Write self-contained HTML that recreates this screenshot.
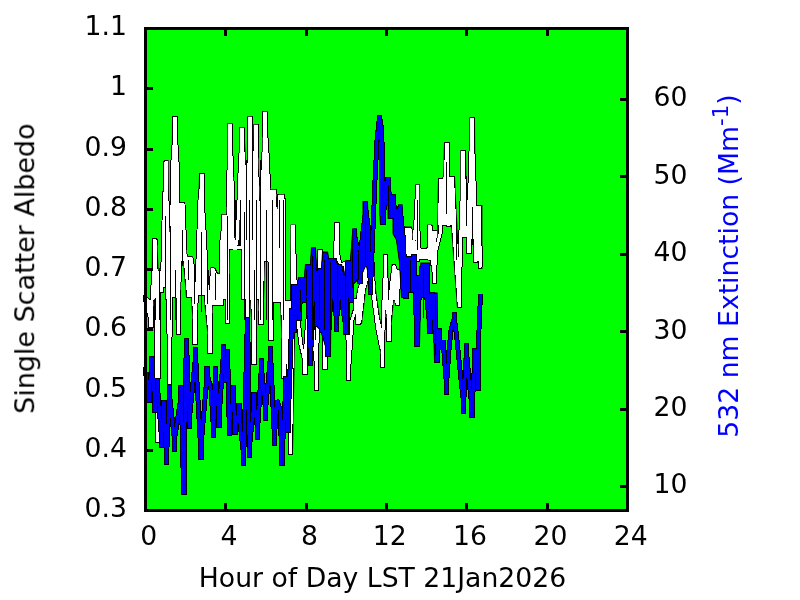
<!DOCTYPE html>
<html><head><meta charset="utf-8">
<style>
html,body{margin:0;padding:0;background:#fff;overflow:hidden}
svg{display:block}
text{font-family:"DejaVu Sans","Liberation Sans",sans-serif;font-size:26.67px;fill:#000}
</style></head><body>
<svg width="800" height="600" viewBox="0 0 800 600">
<rect x="0" y="0" width="800" height="600" fill="#fff"/>
<rect x="145" y="28" width="483" height="483" fill="#00ff00" shape-rendering="crispEdges"/>

<path d="M147,449h6v3h-6zM147,389h6v3h-6zM147,328h6v3h-6zM147,268h6v3h-6zM147,208h6v3h-6zM147,148h6v3h-6zM147,87h6v3h-6zM224,503h3v6h-3zM224,30h3v6h-3zM305,503h3v6h-3zM305,30h3v6h-3zM385,503h3v6h-3zM385,30h3v6h-3zM465,503h3v6h-3zM465,30h3v6h-3zM546,503h3v6h-3zM546,30h3v6h-3zM620,485h6v3h-6zM620,408h6v3h-6zM620,330h6v3h-6zM620,253h6v3h-6zM620,175h6v3h-6zM620,98h6v3h-6z" fill="#000" shape-rendering="crispEdges"/>
<g shape-rendering="crispEdges" fill="none" stroke-linejoin="miter" stroke-miterlimit="2" stroke-linecap="butt">
<polyline points="146,298 148,310 150.6,318.25 150.6,325 151.4,325 151.4,313.75 152,300 154.25,267.55 154.25,241 155.25,241 155.25,267.55 156.5,300 157.1,400 157.1,440 157.9,440 157.9,400 158.5,300 159.1,284.6 159.1,272 159.9,272 159.9,280.1 160.6,281.9 160.6,290 161.4,290 161.4,277.4 163,262 164.5,200 165.75,179.65 165.75,163 166.75,163 166.75,193.15 168,230 169.1,343 169.1,383 169.9,383 169.9,345.65 170.5,300 171.5,228 173,160 174.5,137.45 174.5,119 175.5,119 175.5,137.45 177,160 178,240 178.1,292 178.1,332 178.9,332 178.9,292 179.5,240 180,204 183,204 184,230 185.5,266 188,258 191,258 193,270 194.6,309.6 194.6,342 195.4,342 195.4,324.9 196,304 198,260 200,200 201.25,186.25 201.25,175 202.25,175 202.25,199.75 204,230 206,270 208,300 209.6,328.05 209.6,351 210.4,351 210.4,323.55 211,290 212.5,270 213.5,270 216,275 221,275 222,240 223.5,226.8 223.5,216 224.5,216 224.5,235.8 226,260 227,293.55 227,321 227.8,321 227.8,289.05 228,250 229,170 229.75,145.25 229.75,125 230.75,125 230.75,149.75 232,180 233,238 235,250 237,240 239,200 240.5,160 241.75,142.95 241.75,129 242.75,129 242.75,147.45 244,170 245.5,230 246,280 247.1,299.8 247.1,316 247.9,316 247.9,276 248,200 249.25,154.9 249.25,118 250.25,118 250.25,154.9 251.5,200 253.2,322 253.2,362 254,362 254,322 254,250 255.25,166 255.25,126 256.25,126 256.25,159.3 258,200 260,280 260.6,303.1 260.6,322 261.4,322 261.4,289.6 262,250 263,170 264.75,138.65 264.75,113 265.75,113 265.75,134.15 267.5,160 269,200 270.6,298 270.6,338 271.4,338 271.4,298.4 272,250 273.25,217.55 273.25,191 274.25,191 274.25,208.55 277,230 277.6,241 277.6,250 278.4,250 278.4,225.7 279.5,196 283,196 283.6,336 283.6,376 284.4,376 284.4,355.3 285.5,330 286.6,319 286.6,310 287.4,310 287.4,350 290.1,412 290.1,452 290.9,452 290.9,412 293.1,267 293.1,227 293.9,227 293.9,250.85 295,280 297,312 301,345 304.6,359.85 304.6,372 305.4,372 305.4,353.1 307,330 308.6,313.5 308.6,300 309.4,300 309.4,313.5 313,330 316.1,361.9 316.1,388 316.9,388 316.9,348.4 318,300 319.25,273.05 319.25,251 320.25,251 320.25,273.05 322,300 324.6,336.85 324.6,367 325.4,367 325.4,345.85 327,320 331,285 334.8,262 336,241.1 336,224 337,224 337,239.3 338.2,258 341,266 345,263 347,300 348.1,342.9 348.1,378 348.9,378 348.9,365.4 350,350 352,320 355.6,309 355.6,300 356.4,300 356.4,309.9 357.6,312.1 357.6,322 358.4,322 358.4,307.6 360,290 363,275 366,268 369,262 372,262 374,300 378,330 382,349.25 382,365 382.8,365 382.8,335.75 384,300 385.1,275.8 385.1,256 385.9,256 385.9,275.8 387,300 388.6,321.45 388.6,339 389.4,339 389.4,316.95 391,290 393.8,266 396,272 397.1,289.05 397.1,303 397.9,303 397.9,290.4 399,275 402,280 404,250 406,229 410,229 412,250 414,240 416.6,215 417,199.05 417,186 417.8,186 417.8,213 418.2,246 421,254 426.5,254 429,248 429,236.725 429,227.5 430,227.5 430,237.625 430.3,250 432.5,262 434.1,272.45 434.1,281 434.9,281 434.9,267.05 436,250 440.5,232 440.5,180.5 443,180.6 446,176 446,158.675 446,144.5 447,144.5 447,158.675 447,176 448.1,202.4 448.1,224 448.9,224 448.9,213.2 450,200 451.5,188.175 451.5,178.5 452.5,178.5 452.5,194.025 453,213 455,240 459.1,275.2 459.1,304 459.9,304 459.9,270.7 461,230 462.5,187.1 462.5,152 463.5,152 463.5,173.6 466,200 468.6,228.05 468.6,251 469.4,251 469.4,211 470.5,160 471.75,137.45 471.75,119 472.75,119 472.75,146.45 474,180 475.1,224 475.1,260 475.9,260 475.9,246.5 477,230 478.75,217.35 478.75,207 479.75,207 479.75,234 480.5,267" stroke="#000" stroke-width="5"/>
<clipPath id="c1"><polygon points="146,296 150,299 151.5,299 152,238 157,238 157.5,245 158.5,269 159.5,272 161,267 162.5,263 163,233 163.5,200 164,160 168.6,160 169,200 169.5,228 170,267 171.2,267 171.5,230 172,116 178,116 178,157 179,160 179,202 184.4,202 184.6,225 186,230 186.5,250 187,265 187.5,256 192.5,256 192.7,270 193.5,270 193.8,304 197,304 197.5,279 197.5,250 199,173 204,173 204.5,230 205,236 206,255 207,270 208,290 208.5,292 209.5,292 210,275 210.5,267 214.5,267 214.5,272.5 221.6,273 221.6,214.4 226,214.4 227,200 227.4,123.4 233,123.4 233,152 234,200 234.5,236 236,238 236,245 239,245 239.4,214 239.4,127.4 245,127.4 245,140 246,164 247,164 247,116.4 252,116.4 252.3,150 253,150 253.2,124.4 258,124.4 258.5,158 260,200 260.5,215 262.4,215 262.4,140 263.5,111.4 268,111.4 268,130 269,184 271,189.4 276,189.4 277,198 278,215 279,194.4 284.4,194.4 284.4,262 285,300 290,300 290.4,224.4 296,224.4 296,284 293,453 288,453 288,320 286,350 284,377 282,350 280,303 273,303 273,338 268,338 268,262 265,262 264,300 264,322 259,322 258,300 256,300 256,362 251,362 251,300 250,318 245,318 245,300 241,300 241,250 236,250 230,250 229,300 229,321 226.5,321 226,300 224,300 224,306 213,306 212,320 210,352 207,330 204,300 204,296 198,296 198,300 197,320 195,343 193,325 191,300 191,298 186,298 185.5,290 183,262 181,262 180.5,290 180,300 176,300 175.5,298 171.5,298 171,300 165,300 165,288 160,288 160,300 156,299 154,300 153,312 151,326 148,315 146,301"/></clipPath>
<polygon points="146,296 150,299 151.5,299 152,238 157,238 157.5,245 158.5,269 159.5,272 161,267 162.5,263 163,233 163.5,200 164,160 168.6,160 169,200 169.5,228 170,267 171.2,267 171.5,230 172,116 178,116 178,157 179,160 179,202 184.4,202 184.6,225 186,230 186.5,250 187,265 187.5,256 192.5,256 192.7,270 193.5,270 193.8,304 197,304 197.5,279 197.5,250 199,173 204,173 204.5,230 205,236 206,255 207,270 208,290 208.5,292 209.5,292 210,275 210.5,267 214.5,267 214.5,272.5 221.6,273 221.6,214.4 226,214.4 227,200 227.4,123.4 233,123.4 233,152 234,200 234.5,236 236,238 236,245 239,245 239.4,214 239.4,127.4 245,127.4 245,140 246,164 247,164 247,116.4 252,116.4 252.3,150 253,150 253.2,124.4 258,124.4 258.5,158 260,200 260.5,215 262.4,215 262.4,140 263.5,111.4 268,111.4 268,130 269,184 271,189.4 276,189.4 277,198 278,215 279,194.4 284.4,194.4 284.4,262 285,300 290,300 290.4,224.4 296,224.4 296,284 293,453 288,453 288,320 286,350 284,377 282,350 280,303 273,303 273,338 268,338 268,262 265,262 264,300 264,322 259,322 258,300 256,300 256,362 251,362 251,300 250,318 245,318 245,300 241,300 241,250 236,250 230,250 229,300 229,321 226.5,321 226,300 224,300 224,306 213,306 212,320 210,352 207,330 204,300 204,296 198,296 198,300 197,320 195,343 193,325 191,300 191,298 186,298 185.5,290 183,262 181,262 180.5,290 180,300 176,300 175.5,298 171.5,298 171,300 165,300 165,288 160,288 160,300 156,299 154,300 153,312 151,326 148,315 146,301" fill="#fff" stroke="#000" stroke-width="2" clip-path="url(#c1)"/>
<clipPath id="c2"><polygon points="352,322 357,290 364,268 369,262 373,262 376,290 380,318 383,330 383,256 388,256 388.5,300 391.5,290 391.6,264 396,264 396,268 402,270 402,282 398,284 398,305 395,305 394,300 390,341 388,341 386,310 384,340 382.4,367 380,350 376,320 372,296 369,280 366,290 362,324 357,324 355,312"/></clipPath>
<polygon points="352,322 357,290 364,268 369,262 373,262 376,290 380,318 383,330 383,256 388,256 388.5,300 391.5,290 391.6,264 396,264 396,268 402,270 402,282 398,284 398,305 395,305 394,300 390,341 388,341 386,310 384,340 382.4,367 380,350 376,320 372,296 369,280 366,290 362,324 357,324 355,312" fill="#fff" stroke="#000" stroke-width="2" clip-path="url(#c2)"/>
<clipPath id="c3"><polygon points="404,258 404,226.6 412,226.6 413,240 415,240 415,184.4 419.6,184.4 420,248 427,248 427,224.4 432,224.4 432.5,230 437,230 438,178 443,178 444,142 449,142 449,176 455,176 456,200 458,236 460.4,272 460.4,150 466,150 466.5,190 467.5,225 469,225 469.4,117 475,117 475.6,205 482.4,205 482.4,269 482.4,269 478,269 478,262 473,262 473,240 471,240 471,253 467,253 467,238 462,238 462,308 457,308 454,268 451,226 438,226 437,250 437,283 432,283 432,262 427,260 420,260 420,262 415,262 412,260 404,258"/></clipPath>
<polygon points="404,258 404,226.6 412,226.6 413,240 415,240 415,184.4 419.6,184.4 420,248 427,248 427,224.4 432,224.4 432.5,230 437,230 438,178 443,178 444,142 449,142 449,176 455,176 456,200 458,236 460.4,272 460.4,150 466,150 466.5,190 467.5,225 469,225 469.4,117 475,117 475.6,205 482.4,205 482.4,269 482.4,269 478,269 478,262 473,262 473,240 471,240 471,253 467,253 467,238 462,238 462,308 457,308 454,268 451,226 438,226 437,250 437,283 432,283 432,262 427,260 420,260 420,262 415,262 412,260 404,258" fill="#fff" stroke="#000" stroke-width="2" clip-path="url(#c3)"/>
<polyline points="146,298 148,310 150.6,318.25 150.6,325 151.4,325 151.4,313.75 152,300 154.25,267.55 154.25,241 155.25,241 155.25,267.55 156.5,300 157.1,400 157.1,440 157.9,440 157.9,400 158.5,300 159.1,284.6 159.1,272 159.9,272 159.9,280.1 160.6,281.9 160.6,290 161.4,290 161.4,277.4 163,262 164.5,200 165.75,179.65 165.75,163 166.75,163 166.75,193.15 168,230 169.1,343 169.1,383 169.9,383 169.9,345.65 170.5,300 171.5,228 173,160 174.5,137.45 174.5,119 175.5,119 175.5,137.45 177,160 178,240 178.1,292 178.1,332 178.9,332 178.9,292 179.5,240 180,204 183,204 184,230 185.5,266 188,258 191,258 193,270 194.6,309.6 194.6,342 195.4,342 195.4,324.9 196,304 198,260 200,200 201.25,186.25 201.25,175 202.25,175 202.25,199.75 204,230 206,270 208,300 209.6,328.05 209.6,351 210.4,351 210.4,323.55 211,290 212.5,270 213.5,270 216,275 221,275 222,240 223.5,226.8 223.5,216 224.5,216 224.5,235.8 226,260 227,293.55 227,321 227.8,321 227.8,289.05 228,250 229,170 229.75,145.25 229.75,125 230.75,125 230.75,149.75 232,180 233,238 235,250 237,240 239,200 240.5,160 241.75,142.95 241.75,129 242.75,129 242.75,147.45 244,170 245.5,230 246,280 247.1,299.8 247.1,316 247.9,316 247.9,276 248,200 249.25,154.9 249.25,118 250.25,118 250.25,154.9 251.5,200 253.2,322 253.2,362 254,362 254,322 254,250 255.25,166 255.25,126 256.25,126 256.25,159.3 258,200 260,280 260.6,303.1 260.6,322 261.4,322 261.4,289.6 262,250 263,170 264.75,138.65 264.75,113 265.75,113 265.75,134.15 267.5,160 269,200 270.6,298 270.6,338 271.4,338 271.4,298.4 272,250 273.25,217.55 273.25,191 274.25,191 274.25,208.55 277,230 277.6,241 277.6,250 278.4,250 278.4,225.7 279.5,196 283,196 283.6,336 283.6,376 284.4,376 284.4,355.3 285.5,330 286.6,319 286.6,310 287.4,310 287.4,350 290.1,412 290.1,452 290.9,452 290.9,412 293.1,267 293.1,227 293.9,227 293.9,250.85 295,280 297,312 301,345 304.6,359.85 304.6,372 305.4,372 305.4,353.1 307,330 308.6,313.5 308.6,300 309.4,300 309.4,313.5 313,330 316.1,361.9 316.1,388 316.9,388 316.9,348.4 318,300 319.25,273.05 319.25,251 320.25,251 320.25,273.05 322,300 324.6,336.85 324.6,367 325.4,367 325.4,345.85 327,320 331,285 334.8,262 336,241.1 336,224 337,224 337,239.3 338.2,258 341,266 345,263 347,300 348.1,342.9 348.1,378 348.9,378 348.9,365.4 350,350 352,320 355.6,309 355.6,300 356.4,300 356.4,309.9 357.6,312.1 357.6,322 358.4,322 358.4,307.6 360,290 363,275 366,268 369,262 372,262 374,300 378,330 382,349.25 382,365 382.8,365 382.8,335.75 384,300 385.1,275.8 385.1,256 385.9,256 385.9,275.8 387,300 388.6,321.45 388.6,339 389.4,339 389.4,316.95 391,290 393.8,266 396,272 397.1,289.05 397.1,303 397.9,303 397.9,290.4 399,275 402,280 404,250 406,229 410,229 412,250 414,240 416.6,215 417,199.05 417,186 417.8,186 417.8,213 418.2,246 421,254 426.5,254 429,248 429,236.725 429,227.5 430,227.5 430,237.625 430.3,250 432.5,262 434.1,272.45 434.1,281 434.9,281 434.9,267.05 436,250 440.5,232 440.5,180.5 443,180.6 446,176 446,158.675 446,144.5 447,144.5 447,158.675 447,176 448.1,202.4 448.1,224 448.9,224 448.9,213.2 450,200 451.5,188.175 451.5,178.5 452.5,178.5 452.5,194.025 453,213 455,240 459.1,275.2 459.1,304 459.9,304 459.9,270.7 461,230 462.5,187.1 462.5,152 463.5,152 463.5,173.6 466,200 468.6,228.05 468.6,251 469.4,251 469.4,211 470.5,160 471.75,137.45 471.75,119 472.75,119 472.75,146.45 474,180 475.1,224 475.1,260 475.9,260 475.9,246.5 477,230 478.75,217.35 478.75,207 479.75,207 479.75,234 480.5,267" stroke="#fff" stroke-width="3"/>
<polyline points="155.5,298 155.5,320" stroke="#000" stroke-width="1"/>
<polyline points="159.5,268 159.5,320" stroke="#000" stroke-width="1"/>
<polyline points="165.5,216 165.5,300" stroke="#000" stroke-width="1"/>
<polyline points="170.5,226 170.5,320" stroke="#000" stroke-width="1"/>
<polyline points="175.5,270 175.5,320" stroke="#000" stroke-width="1"/>
<polyline points="182.5,230 182.5,266" stroke="#000" stroke-width="1"/>
<polyline points="188.5,260 188.5,280" stroke="#000" stroke-width="1"/>
<polyline points="194.5,270 194.5,304" stroke="#000" stroke-width="1"/>
<polyline points="201.5,232 201.5,312" stroke="#000" stroke-width="1"/>
<polyline points="207.5,270 207.5,304" stroke="#000" stroke-width="1"/>
<polyline points="215.5,273 215.5,300" stroke="#000" stroke-width="1"/>
<polyline points="227.5,216 227.5,320" stroke="#000" stroke-width="1"/>
<polyline points="235.5,200 235.5,220" stroke="#000" stroke-width="1"/>
<polyline points="240.5,200 240.5,246" stroke="#000" stroke-width="1"/>
<polyline points="244.5,212 244.5,320" stroke="#000" stroke-width="1"/>
<polyline points="246.5,160 246.5,240" stroke="#000" stroke-width="1"/>
<polyline points="249.5,200 249.5,320" stroke="#000" stroke-width="1"/>
<polyline points="252.5,150 252.5,240" stroke="#000" stroke-width="1"/>
<polyline points="254.5,270 254.5,320" stroke="#000" stroke-width="1"/>
<polyline points="256.5,200 256.5,320" stroke="#000" stroke-width="1"/>
<polyline points="260.5,160 260.5,320" stroke="#000" stroke-width="1"/>
<polyline points="266.5,210 266.5,320" stroke="#000" stroke-width="1"/>
<polyline points="272.5,200 272.5,320" stroke="#000" stroke-width="1"/>
<polyline points="279.5,200 279.5,248" stroke="#000" stroke-width="1"/>
<polyline points="283.5,200 283.5,320" stroke="#000" stroke-width="1"/>
<polyline points="446.5,162 446.5,214" stroke="#000" stroke-width="1"/>
<polyline points="472.5,207 472.5,245" stroke="#000" stroke-width="1"/>
<polyline points="466.5,176 466.5,226" stroke="#000" stroke-width="1"/>
<polyline points="417.5,200 417.5,250" stroke="#000" stroke-width="1"/>
<polyline points="456.5,226 456.5,260" stroke="#000" stroke-width="1"/>
<polyline points="146,372 148.6,391.6 148.6,400 149.4,400 149.4,388 151.6,370 151.6,358 152.4,358 152.4,370 154.6,398 154.6,410 155.4,410 155.4,401 157.1,389 157.1,380 157.9,380 157.9,392 161.1,433 161.1,445 161.9,445 161.9,433 163.6,414 163.6,402 164.4,402 164.4,414 166.1,450 166.1,462 166.9,462 166.9,450 169.1,398 169.1,386 169.9,386 169.9,398 174.1,437 174.1,449 174.9,449 174.9,437 180.6,399 180.6,387 181.4,387 181.4,399 183.3,480 183.3,492 184.1,492 184.1,480 186.1,352 186.1,340 186.9,340 186.9,352 189.1,414 189.1,426 189.9,426 189.9,414 195.1,361 195.1,349 195.9,349 195.9,361 200.4,445 200.4,457 201.2,457 201.2,445 206.6,380 206.6,368 207.4,368 207.4,374.6 211,390 213.1,423 213.1,435 213.9,435 213.9,423 215.1,380 215.1,368 215.9,368 215.9,380 218.6,413 218.6,425 219.4,425 219.4,413 223.1,358 223.1,346 223.9,346 223.9,356.2 225.1,369.8 225.1,380 225.9,380 225.9,371.3 227.1,359.7 227.1,351 227.9,351 227.9,363 229.1,421 229.1,433 229.9,433 229.9,421 232.6,399 232.6,387 233.4,387 233.4,399 234.6,420 234.6,432 235.4,432 235.4,423.9 238.6,413.1 238.6,405 239.4,405 239.4,417 243.1,451 243.1,463 243.9,463 243.9,451 247.1,331 247.1,319 247.9,319 247.9,331 249.1,443 249.1,455 249.9,455 249.9,443 253.6,406 253.6,394 254.4,394 254.4,406 257.1,425 257.1,437 257.9,437 257.9,425 261.1,372 261.1,360 261.9,360 261.9,372 265.1,406 265.1,418 265.9,418 265.9,406 270.1,360 270.1,348 270.9,348 270.9,360 274.1,431 274.1,443 274.9,443 274.9,431 277,400 280,410 281.6,451 281.6,463 282.4,463 282.4,451 285.6,390 285.6,378 286.4,378 286.4,390 287.6,418 287.6,430 288.4,430 288.4,418 291.6,322 291.6,310 292.4,310 292.4,316 293.6,324 293.6,330 294.4,330 294.4,321.6 297.6,310.4 297.6,302 298.4,302 298.4,306.8 299.1,313.2 299.1,318 299.9,318 299.9,306.3 300.6,290.7 300.6,279 301.4,279 301.4,285.3 303.6,293.7 303.6,300 304.4,300 304.4,289.8 307.1,276.2 307.1,266 307.9,266 307.9,278 310.1,351 310.1,363 310.9,363 310.9,351 313.1,262 313.1,250 313.9,250 313.9,262 316.6,312 316.6,324 317.4,324 317.4,312 319.6,282 319.6,270 320.4,270 320.4,282 321.6,318 321.6,330 322.4,330 322.4,318 324.6,266 324.6,254 325.4,254 325.4,266 327.6,342 327.6,354 328.4,354 328.4,342 332.1,272 332.1,260 332.9,260 332.9,272 336.1,317 336.1,329 336.9,329 336.9,317 339.6,280 339.6,268 340.4,268 340.4,280 343,310 345.6,325.4 345.6,332 346.4,332 346.4,320 347.6,274 347.6,262 348.4,262 348.4,273.4 350.6,288.6 350.6,300 351.4,300 351.4,288 354.1,243 354.1,231 354.9,231 354.9,237.3 358.5,252 359.6,272.3 359.6,281 360.4,281 360.4,269 362,240 365.1,214.1 365.1,203 365.9,203 365.9,209.6 368,225 370.1,280 370.1,292 370.9,292 370.9,280 373,230 375,180 377,140 379.5,117 381,125 382.5,150 382.6,210 382.6,222 383.4,222 383.4,215.4 385,200 387.6,185.3 387.6,179 388.4,179 388.4,190.1 390.6,204.9 390.6,216 391.4,216 391.4,210 392.6,202 392.6,196 393.4,196 393.4,201.7 396,215 400,207 403,235 405.6,284 405.6,296 406.4,296 406.4,284.6 408.6,269.4 408.6,258 409.4,258 409.4,267.6 410.6,280.4 410.6,290 411.4,290 411.4,279.8 413.6,266.2 413.6,256 414.4,256 414.4,268 416.6,332 416.6,344 417.4,344 417.4,332 419.5,290 421.6,274.6 421.6,268 422.4,268 422.4,275.8 423.1,286.2 423.1,294 423.9,294 423.9,286.2 424.6,275.8 424.6,268 425.4,268 425.4,277.6 427,300 429.3,321.7 429.3,331 430.1,331 430.1,319.9 431.6,305.1 431.6,294 432.4,294 432.4,304.8 435,330 436.6,351 436.6,360 437.4,360 437.4,351 438.6,339 438.6,330 439.4,330 439.4,336 441,350 443,340 446.1,380 446.1,392 446.9,392 446.9,380 449,350 451,330 454.1,318.8 454.1,314 454.9,314 454.9,321.8 457,340 460,370 463.1,399 463.1,411 463.9,411 463.9,399 466.1,357 466.1,345 466.9,345 466.9,355.5 469,380 471.6,404.5 471.6,415 472.4,415 472.4,403 474.6,362 474.6,350 475.4,350 475.4,361.4 477.6,376.6 477.6,388 478.4,388 478.4,376 479,330 480.5,294" stroke="#000" stroke-width="5"/>
<clipPath id="c4"><polygon points="291,284 297,284 298,277 304,277 305,264 310,264 311,247.4 316,247.4 317,270 321,270 322,251.6 328,251.6 329,258 336,258 338,264 342,264 344,275 346,260 350,260 352.4,228.4 357,228.4 357.5,248 361,248 362.5,215 362.5,201 368,201 368.5,220 370.6,235 372,280 372,280 370.5,294 369,280 366,266 362,275 360,283 358,280 354,284 352,290 349,296 349,334 343,334 343,300 339,300 339,331 334,331 334,300 331.5,300 331,356 328,356 320,330 315.5,326 315,300 313.5,300 313,365 308,365 307.5,298 301,298 300,316 292,316 291,330"/></clipPath>
<polygon points="291,284 297,284 298,277 304,277 305,264 310,264 311,247.4 316,247.4 317,270 321,270 322,251.6 328,251.6 329,258 336,258 338,264 342,264 344,275 346,260 350,260 352.4,228.4 357,228.4 357.5,248 361,248 362.5,215 362.5,201 368,201 368.5,220 370.6,235 372,280 372,280 370.5,294 369,280 366,266 362,275 360,283 358,280 354,284 352,290 349,296 349,334 343,334 343,300 339,300 339,331 334,331 334,300 331.5,300 331,356 328,356 320,330 315.5,326 315,300 313.5,300 313,365 308,365 307.5,298 301,298 300,316 292,316 291,330" fill="#0000ff" stroke="#000" stroke-width="2" clip-path="url(#c4)"/>
<clipPath id="c5"><polygon points="377,115 382,115 382,148 383.75,148 383.75,180 385.6,180 385.6,177.25 390.6,177.25 390.6,189 392,194 394.4,194 394.4,206 395.6,207.5 398,207.5 398,204.4 402.5,204.4 403,222 404,244 405,256 416.6,256 417,275 420,275 420.4,262.5 430,262.5 430,292.5 437.5,292.5 438,330 438,362 434,362 433,320 432.4,333 427,333 426.5,298 421,298 420,346 414,346 414,293 408,293 408,298 401,298 399,262 396,240 392.5,233.75 392.5,218.75 387.5,218.75 387.5,205.6 385.6,205.6 385.6,220 384.4,225 380,225 379.4,214 379.4,140 377,140"/></clipPath>
<polygon points="377,115 382,115 382,148 383.75,148 383.75,180 385.6,180 385.6,177.25 390.6,177.25 390.6,189 392,194 394.4,194 394.4,206 395.6,207.5 398,207.5 398,204.4 402.5,204.4 403,222 404,244 405,256 416.6,256 417,275 420,275 420.4,262.5 430,262.5 430,292.5 437.5,292.5 438,330 438,362 434,362 433,320 432.4,333 427,333 426.5,298 421,298 420,346 414,346 414,293 408,293 408,298 401,298 399,262 396,240 392.5,233.75 392.5,218.75 387.5,218.75 387.5,205.6 385.6,205.6 385.6,220 384.4,225 380,225 379.4,214 379.4,140 377,140" fill="#0000ff" stroke="#000" stroke-width="2" clip-path="url(#c5)"/>
<polyline points="146,372 148.6,391.6 148.6,400 149.4,400 149.4,388 151.6,370 151.6,358 152.4,358 152.4,370 154.6,398 154.6,410 155.4,410 155.4,401 157.1,389 157.1,380 157.9,380 157.9,392 161.1,433 161.1,445 161.9,445 161.9,433 163.6,414 163.6,402 164.4,402 164.4,414 166.1,450 166.1,462 166.9,462 166.9,450 169.1,398 169.1,386 169.9,386 169.9,398 174.1,437 174.1,449 174.9,449 174.9,437 180.6,399 180.6,387 181.4,387 181.4,399 183.3,480 183.3,492 184.1,492 184.1,480 186.1,352 186.1,340 186.9,340 186.9,352 189.1,414 189.1,426 189.9,426 189.9,414 195.1,361 195.1,349 195.9,349 195.9,361 200.4,445 200.4,457 201.2,457 201.2,445 206.6,380 206.6,368 207.4,368 207.4,374.6 211,390 213.1,423 213.1,435 213.9,435 213.9,423 215.1,380 215.1,368 215.9,368 215.9,380 218.6,413 218.6,425 219.4,425 219.4,413 223.1,358 223.1,346 223.9,346 223.9,356.2 225.1,369.8 225.1,380 225.9,380 225.9,371.3 227.1,359.7 227.1,351 227.9,351 227.9,363 229.1,421 229.1,433 229.9,433 229.9,421 232.6,399 232.6,387 233.4,387 233.4,399 234.6,420 234.6,432 235.4,432 235.4,423.9 238.6,413.1 238.6,405 239.4,405 239.4,417 243.1,451 243.1,463 243.9,463 243.9,451 247.1,331 247.1,319 247.9,319 247.9,331 249.1,443 249.1,455 249.9,455 249.9,443 253.6,406 253.6,394 254.4,394 254.4,406 257.1,425 257.1,437 257.9,437 257.9,425 261.1,372 261.1,360 261.9,360 261.9,372 265.1,406 265.1,418 265.9,418 265.9,406 270.1,360 270.1,348 270.9,348 270.9,360 274.1,431 274.1,443 274.9,443 274.9,431 277,400 280,410 281.6,451 281.6,463 282.4,463 282.4,451 285.6,390 285.6,378 286.4,378 286.4,390 287.6,418 287.6,430 288.4,430 288.4,418 291.6,322 291.6,310 292.4,310 292.4,316 293.6,324 293.6,330 294.4,330 294.4,321.6 297.6,310.4 297.6,302 298.4,302 298.4,306.8 299.1,313.2 299.1,318 299.9,318 299.9,306.3 300.6,290.7 300.6,279 301.4,279 301.4,285.3 303.6,293.7 303.6,300 304.4,300 304.4,289.8 307.1,276.2 307.1,266 307.9,266 307.9,278 310.1,351 310.1,363 310.9,363 310.9,351 313.1,262 313.1,250 313.9,250 313.9,262 316.6,312 316.6,324 317.4,324 317.4,312 319.6,282 319.6,270 320.4,270 320.4,282 321.6,318 321.6,330 322.4,330 322.4,318 324.6,266 324.6,254 325.4,254 325.4,266 327.6,342 327.6,354 328.4,354 328.4,342 332.1,272 332.1,260 332.9,260 332.9,272 336.1,317 336.1,329 336.9,329 336.9,317 339.6,280 339.6,268 340.4,268 340.4,280 343,310 345.6,325.4 345.6,332 346.4,332 346.4,320 347.6,274 347.6,262 348.4,262 348.4,273.4 350.6,288.6 350.6,300 351.4,300 351.4,288 354.1,243 354.1,231 354.9,231 354.9,237.3 358.5,252 359.6,272.3 359.6,281 360.4,281 360.4,269 362,240 365.1,214.1 365.1,203 365.9,203 365.9,209.6 368,225 370.1,280 370.1,292 370.9,292 370.9,280 373,230 375,180 377,140 379.5,117 381,125 382.5,150 382.6,210 382.6,222 383.4,222 383.4,215.4 385,200 387.6,185.3 387.6,179 388.4,179 388.4,190.1 390.6,204.9 390.6,216 391.4,216 391.4,210 392.6,202 392.6,196 393.4,196 393.4,201.7 396,215 400,207 403,235 405.6,284 405.6,296 406.4,296 406.4,284.6 408.6,269.4 408.6,258 409.4,258 409.4,267.6 410.6,280.4 410.6,290 411.4,290 411.4,279.8 413.6,266.2 413.6,256 414.4,256 414.4,268 416.6,332 416.6,344 417.4,344 417.4,332 419.5,290 421.6,274.6 421.6,268 422.4,268 422.4,275.8 423.1,286.2 423.1,294 423.9,294 423.9,286.2 424.6,275.8 424.6,268 425.4,268 425.4,277.6 427,300 429.3,321.7 429.3,331 430.1,331 430.1,319.9 431.6,305.1 431.6,294 432.4,294 432.4,304.8 435,330 436.6,351 436.6,360 437.4,360 437.4,351 438.6,339 438.6,330 439.4,330 439.4,336 441,350 443,340 446.1,380 446.1,392 446.9,392 446.9,380 449,350 451,330 454.1,318.8 454.1,314 454.9,314 454.9,321.8 457,340 460,370 463.1,399 463.1,411 463.9,411 463.9,399 466.1,357 466.1,345 466.9,345 466.9,355.5 469,380 471.6,404.5 471.6,415 472.4,415 472.4,403 474.6,362 474.6,350 475.4,350 475.4,361.4 477.6,376.6 477.6,388 478.4,388 478.4,376 479,330 480.5,294" stroke="#0000ff" stroke-width="3"/>
<polyline points="300.5,290 300.5,312" stroke="#000" stroke-width="1"/>
<polyline points="306.5,270 306.5,296" stroke="#000" stroke-width="1"/>
<polyline points="312.5,256 312.5,340" stroke="#000" stroke-width="1"/>
<polyline points="319.5,275 319.5,320" stroke="#000" stroke-width="1"/>
<polyline points="324.5,260 324.5,330" stroke="#000" stroke-width="1"/>
<polyline points="330.5,262 330.5,350" stroke="#000" stroke-width="1"/>
<polyline points="337.5,266 337.5,326" stroke="#000" stroke-width="1"/>
<polyline points="345.5,268 345.5,330" stroke="#000" stroke-width="1"/>
<polyline points="352.5,240 352.5,288" stroke="#000" stroke-width="1"/>
<polyline points="358.5,250 358.5,280" stroke="#000" stroke-width="1"/>
<polyline points="365.5,210 365.5,265" stroke="#000" stroke-width="1"/>
<polyline points="388.5,185 388.5,214" stroke="#000" stroke-width="1"/>
<polyline points="410.5,260 410.5,292" stroke="#000" stroke-width="1"/>
<polyline points="423.5,268 423.5,318" stroke="#000" stroke-width="1"/>
<polyline points="435.5,296 435.5,355" stroke="#000" stroke-width="1"/>
</g>
<path d="M144,27h485v3h-485zM144,509h485v3h-485zM144,27h3v485h-3zM626,27h3v485h-3zM143,295h2v7h-2zM143,367h2v9h-2z" fill="#000" shape-rendering="crispEdges"/>
<g style="opacity:0.999">
<text x="127" y="517.1" text-anchor="end">0.3</text>
<text x="127" y="456.9" text-anchor="end">0.4</text>
<text x="127" y="396.6" text-anchor="end">0.5</text>
<text x="127" y="336.3" text-anchor="end">0.6</text>
<text x="127" y="276.1" text-anchor="end">0.7</text>
<text x="127" y="215.8" text-anchor="end">0.8</text>
<text x="127" y="155.6" text-anchor="end">0.9</text>
<text x="127" y="95.4" text-anchor="end">1</text>
<text x="127" y="35.1" text-anchor="end">1.1</text>
<text x="148.7" y="545" text-anchor="middle">0</text>
<text x="229.0" y="545" text-anchor="middle">4</text>
<text x="309.4" y="545" text-anchor="middle">8</text>
<text x="389.7" y="545" text-anchor="middle">12</text>
<text x="470.0" y="545" text-anchor="middle">16</text>
<text x="550.4" y="545" text-anchor="middle">20</text>
<text x="630.7" y="545" text-anchor="middle">24</text>
<text x="653.5" y="493.3">10</text>
<text x="653.5" y="415.9">20</text>
<text x="653.5" y="338.5">30</text>
<text x="653.5" y="261.1">40</text>
<text x="653.5" y="183.7">50</text>
<text x="653.5" y="106.3">60</text>
<text x="382.5" y="586.5" text-anchor="middle">Hour of Day LST 21Jan2026</text>
<text transform="translate(34.2,268.6) rotate(-90)" text-anchor="middle" style="font-size:26.95px">Single Scatter Albedo</text>
<text transform="translate(738,266) rotate(-90)" text-anchor="middle" style="fill:#0000ff">532 nm Extinction (Mm<tspan dy="-10" style="font-size:21.3px">-1</tspan><tspan dy="9">)</tspan></text>
</g>
</svg>
</body></html>
